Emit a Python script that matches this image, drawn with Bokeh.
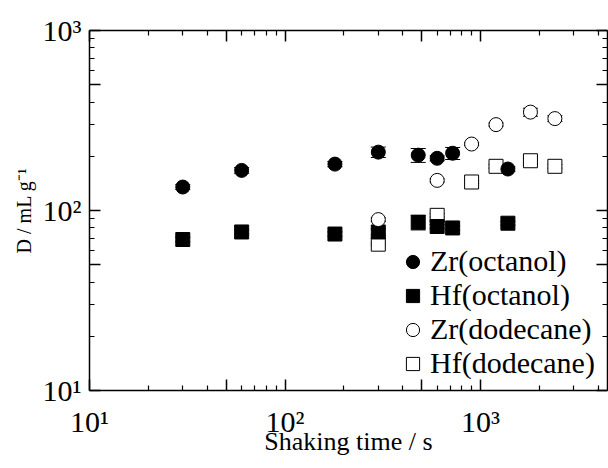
from bokeh.plotting import figure
from bokeh.models import (LogAxis, FixedTicker, Range1d, Legend, LegendItem, Whisker,
                          ColumnDataSource, TeeHead)
from bokeh.embed import file_html
from bokeh.resources import INLINE

# ---- data ----
time_octanol = [30, 60, 180, 300, 480, 600, 720, 1380]
zr_octanol = [135, 167, 181, 211, 203, 195, 208, 170]
zr_octanol_err = [4, 6, 6, 14, 18, 6, 16, 5]
hf_octanol = [69, 76, 74, 76, 86, 81.5, 80, 85]
hf_octanol_err = [2, 2, 2, 3, 8, 2, 2, 2]

time_dodecane = [300, 600, 900, 1200, 1800, 2400]
zr_dodecane = [89, 147, 234, 300, 352, 324]
zr_dodecane_err = [2, 3, 4, 6, 18, 12]
hf_dodecane = [65, 94, 144, 176, 189, 176]
hf_dodecane_err = [1, 2, 3, 4, 6, 4]

x_major = [10, 50, 100, 500, 1000]
x_minor = [20, 30, 40, 60, 70, 80, 90, 200, 300, 400, 600, 700, 800, 900, 2000, 3000, 4000]
y_major = [10, 50, 100, 500, 1000]
y_minor = [20, 30, 40, 60, 70, 80, 90, 200, 300, 400, 600, 700, 800, 900]
tick_labels = {10: "10¹", 50: "", 100: "10²", 500: "", 1000: "10³"}

FONT = "Liberation Serif"

p = figure(width=608, height=468, x_axis_type="log", y_axis_type="log",
           x_range=Range1d(10, 4460), y_range=Range1d(10, 1000),
           output_backend="svg", toolbar_location=None,
           min_border_left=89, min_border_right=1, min_border_top=30, min_border_bottom=78)
p.grid.visible = False
p.outline_line_color = None
p.background_fill_color = "white"
p.border_fill_color = "white"


def style_axis(ax, ticks, minor, labels=True):
    ax.ticker = FixedTicker(ticks=ticks, minor_ticks=minor)
    ax.axis_line_color = "black"
    ax.axis_line_width = 1.5
    ax.major_tick_line_color = "black"
    ax.major_tick_line_width = 1.5
    ax.minor_tick_line_color = "black"
    ax.minor_tick_line_width = 1.2
    ax.major_tick_in = 11
    ax.major_tick_out = 0
    ax.minor_tick_in = 5
    ax.minor_tick_out = 0
    if labels:
        ax.major_label_overrides = dict(tick_labels)
        ax.major_label_text_font = FONT
        ax.major_label_text_font_size = "30px"
        ax.major_label_text_color = "black"
    else:
        ax.major_label_overrides = {t: "" for t in ticks}
        ax.major_label_text_font_size = "0px"
        ax.major_label_standoff = 0


style_axis(p.xaxis[0], x_major, x_minor)
style_axis(p.yaxis[0], y_major, y_minor)
p.xaxis[0].major_label_standoff = 14
p.yaxis[0].major_label_standoff = 8
p.xaxis[0].axis_label = "Shaking time / s"
p.xaxis[0].axis_label_text_font = FONT
p.xaxis[0].axis_label_text_font_size = "26px"
p.xaxis[0].axis_label_text_font_style = "normal"
p.xaxis[0].axis_label_text_color = "black"
p.xaxis[0].axis_label_standoff = -14

p.yaxis[0].axis_label = "D / mL g⁻¹"
p.yaxis[0].axis_label_text_font = FONT
p.yaxis[0].axis_label_text_font_size = "20px"
p.yaxis[0].axis_label_text_font_style = "normal"
p.yaxis[0].axis_label_text_color = "black"
p.yaxis[0].axis_label_standoff = 5

top_ax = LogAxis()
style_axis(top_ax, x_major, x_minor, labels=False)
p.add_layout(top_ax, "above")
right_ax = LogAxis()
style_axis(right_ax, y_major, y_minor, labels=False)
p.add_layout(right_ax, "right")


def whisker(xs, ys, errs):
    src = ColumnDataSource(dict(x=xs, lo=[y - e for y, e in zip(ys, errs)],
                                hi=[y + e for y, e in zip(ys, errs)]))
    w = Whisker(base="x", lower="lo", upper="hi", source=src, dimension="height",
                line_color="black", line_width=1,
                upper_head=TeeHead(size=15, line_color="black", line_width=1),
                lower_head=TeeHead(size=15, line_color="black", line_width=1))
    p.add_layout(w)


whisker(time_octanol, zr_octanol, zr_octanol_err)
whisker(time_octanol, hf_octanol, hf_octanol_err)
whisker(time_dodecane, zr_dodecane, zr_dodecane_err)
whisker(time_dodecane, hf_dodecane, hf_dodecane_err)

r_hfd = p.scatter(time_dodecane, hf_dodecane, marker="square", size=14,
                  fill_color="white", line_color="black", line_width=1)
r_hfo = p.scatter(time_octanol, hf_octanol, marker="square", size=14,
                  fill_color="black", line_color="black", line_width=1)
r_zrd = p.scatter(time_dodecane, zr_dodecane, marker="circle", size=14,
                  fill_color="white", line_color="black", line_width=1)
r_zro = p.scatter(time_octanol, zr_octanol, marker="circle", size=14,
                  fill_color="black", line_color="black", line_width=1)

legend = Legend(items=[LegendItem(label="Zr(octanol)", renderers=[r_zro]),
                       LegendItem(label="Hf(octanol)", renderers=[r_hfo]),
                       LegendItem(label="Zr(dodecane)", renderers=[r_zrd]),
                       LegendItem(label="Hf(dodecane)", renderers=[r_hfd])],
                location=(306, 10), orientation="vertical",
                glyph_width=35, glyph_height=33, label_height=33, label_standoff=0,
                spacing=0, padding=0, margin=0,
                label_text_font=FONT, label_text_font_size="30px",
                label_text_color="black",
                border_line_alpha=0, background_fill_alpha=0)
p.add_layout(legend)

open("out.html", "w").write(file_html(p, INLINE))
